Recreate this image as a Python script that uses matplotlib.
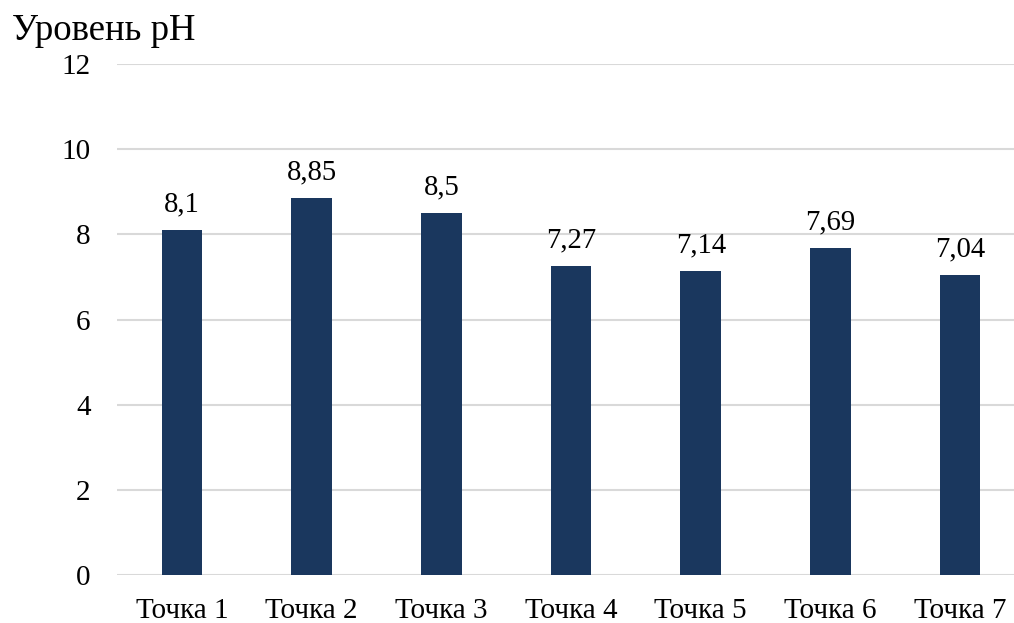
#!/usr/bin/env python3
"""Уровень pH по точкам отбора - столбчатая диаграмма"""

import matplotlib
matplotlib.use('Agg')
import matplotlib.pyplot as plt

# ==================== данные ====================
points = ['Точка 1', 'Точка 2', 'Точка 3', 'Точка 4', 'Точка 5', 'Точка 6', 'Точка 7']
ph_values = [8.1, 8.85, 8.5, 7.27, 7.14, 7.69, 7.04]
y_ticks = [0, 2, 4, 6, 8, 10, 12]

BAR_COLOR = '#1A375E'
GRID_COLOR = '#D9D9D9'

plt.rcParams['font.family'] = ['Liberation Serif', 'DejaVu Serif']

fig = plt.figure(figsize=(10.14, 6.23), dpi=100)
# ось выходит чуть за правый край, как в исходной картинке
ax = fig.add_axes([0.1154, 0.0778, 0.8955, 0.8187])

x = range(len(points))
bars = ax.bar(x, ph_values, width=0.313, color=BAR_COLOR, zorder=3)

# подписи значений с десятичной запятой
for xi, v in zip(x, ph_values):
    ax.annotate(f'{v:g}'.replace('.', ','), (xi, v), xytext=(0, 9),
                textcoords='offset points', ha='center', va='bottom',
                fontsize=20.7, color='black')

ax.set_xlim(-0.5, len(points) - 0.5)
ax.set_ylim(0, 12)
ax.set_yticks(y_ticks)
ax.set_xticks(list(x))
ax.set_xticklabels(points)
ax.tick_params(axis='both', length=0, labelsize=21, colors='black')
ax.tick_params(axis='y', pad=19)
ax.tick_params(axis='x', pad=17)

ax.yaxis.grid(True, color=GRID_COLOR, linewidth=1.5, zorder=0)
for s in ax.spines.values():
    s.set_visible(False)

fig.text(0.012, 0.936, 'Уровень pH', fontsize=26.5, ha='left', va='baseline')

plt.savefig('out.png', dpi=100)
